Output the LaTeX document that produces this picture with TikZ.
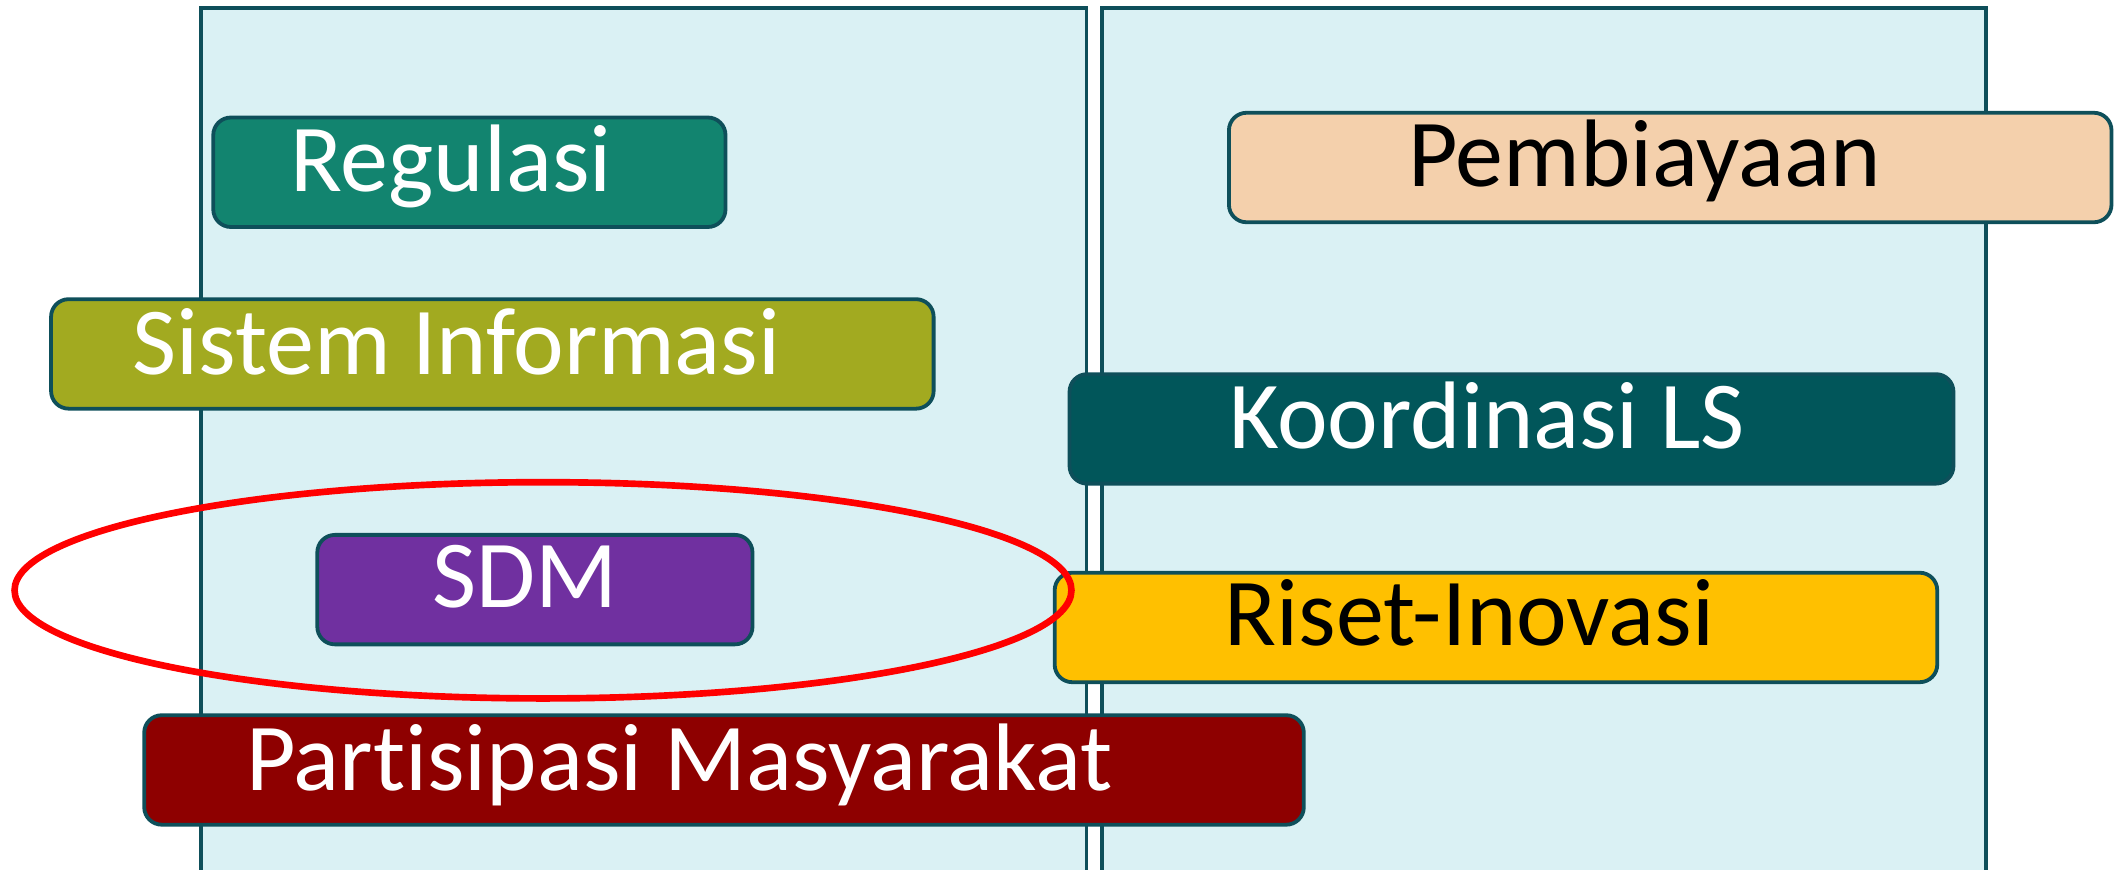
\documentclass[tikz,border=0pt]{standalone}
\usepackage{fontspec}
\setmainfont{Carlito}[Ligatures={NoCommon}]
\usepackage{xcolor}
\usepackage{tikz}
\usetikzlibrary{shapes.geometric, positioning, calc}
\definecolor{panelfill}{HTML}{DAF1F4}
\definecolor{paneldraw}{HTML}{0E4F5A}
\definecolor{regc}{HTML}{12846F}
\definecolor{biayac}{HTML}{F4D0AC}
\definecolor{sisc}{HTML}{A2AA20}
\definecolor{koorc}{HTML}{01565A}
\definecolor{sdmc}{HTML}{7030A0}
\definecolor{risetc}{HTML}{FFC000}
\definecolor{partc}{HTML}{8E0000}
\tikzstyle{panel} = [rectangle, draw=paneldraw, line width=0.7pt, fill=panelfill, inner sep=0pt]
\tikzstyle{pillar} = [rectangle, rounded corners=0.13cm, draw=paneldraw, line width=0.8pt, inner sep=0pt, minimum height=0.81cm]
\tikzstyle{boxtext} = [anchor=base, inner sep=0pt, text=white, font=\fontsize{20.2}{24}\selectfont]

\begin{document}
\begin{tikzpicture}[x=0.01cm, y=-0.01cm]
    \clip (0,0) rectangle (1568,644);
    % Panels
    \node[panel, minimum width=6.55cm, minimum height=6.54cm] (kiri) at (476.5,333) {};
    \node[panel, minimum width=6.54cm, minimum height=6.54cm] (kanan) at (1143,333) {};

    % Pillars
    \node[pillar, fill=regc, minimum width=3.79cm] (regulasi) at (347.5,127.5) {};
    \node[pillar, fill=biayac, minimum width=6.53cm] (pembiayaan) at (1236.5,124) {};
    \node[pillar, fill=sisc, minimum width=6.53cm] (sisinfo) at (364.5,262) {};
    \node[pillar, fill=koorc, minimum width=6.54cm] (koordinasi) at (1119,317.5) {};
    \node[pillar, fill=sdmc, minimum width=3.22cm] (sdm) at (396,436.5) {};
    \node[pillar, fill=risetc, minimum width=6.53cm] (riset) at (1107.5,464.5) {};
    \node[pillar, fill=partc, minimum width=8.58cm] (partisipasi) at (536,570) {};

    % Texts
    \node[boxtext] (regulasi-t) at (334,142) {Regulasi};
    \node[boxtext, text=black] (pembiayaan-t) at (1217.5,138) {Pembiayaan};
    \node[boxtext] (sisinfo-t) at (338,277) {Sistem Informasi};
    \node[boxtext] (koordinasi-t) at (1101,332) {Koordinasi LS};
    \node[boxtext] (sdm-t) at (388.5,450) {SDM};
    \node[boxtext, text=black] (riset-t) at (1088,478) {Riset-Inovasi};
    \node[boxtext] (partisipasi-t) at (503,585) {Partisipasi Masyarakat};

    % Focus ring
    \node[ellipse, draw=red, line width=1.4pt, inner sep=0pt, minimum width=7.82cm, minimum height=1.60cm] (fokus) at (402,437) {};
\end{tikzpicture}
\end{document}
